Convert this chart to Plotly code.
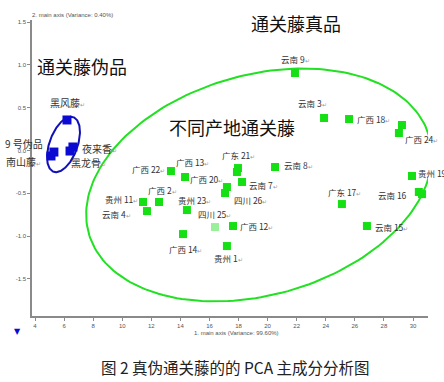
import numpy as np
import plotly.graph_objects as go

# ---------------- data ----------------
genuine_names = ["云南 9", "云南 3", "广西 18", "广西 24", "广西 24", "贵州 19", "云南 16", "云南 16",
                 "广东 17", "云南 15", "云南 8", "广东 21", "广东 21", "云南 7", "广西 20", "四川 26",
                 "广西 13", "广西 22", "广西 2", "贵州 11", "云南 4", "贵州 23", "四川 25", "广西 12",
                 "广西 14", "贵州 1"]
genuine_pc1 = [21.88, 23.88, 25.60, 29.24, 29.03, 29.93, 30.40, 30.62,
               25.11, 26.83, 20.51, 17.96, 17.89, 18.24, 17.20, 17.07,
               14.32, 13.35, 12.53, 11.43, 11.70, 14.45, 16.38, 17.62,
               14.18, 17.20]
genuine_pc2 = [0.906, 0.380, 0.368, 0.298, 0.205, -0.298, -0.485, -0.510,
               -0.626, -0.883, -0.193, -0.205, -0.251, -0.368, -0.427, -0.497,
               -0.310, -0.240, -0.602, -0.602, -0.708, -0.696, -0.895, -0.883,
               -0.977, -1.117]
genuine_faint = ["四川 25"]

fake_names = ["黑风藤", "南山藤", "9 号伪品", "夜来香", "黑龙骨"]
fake_pc1 = [6.20, 5.10, 5.30, 6.61, 6.41]
fake_pc2 = [0.357, -0.064, -0.018, 0.041, -0.006]

# labels that show no paragraph mark in the reference
no_mark = ["9 号伪品", "云南 16", "贵州 19"]

x_ticks = [4, 6, 8, 10, 12, 14, 16, 18, 20, 22, 24, 26, 28, 30]
y_ticks = [-1.5, -1.0, -0.5, 0.0, 0.5, 1.0, 1.5]

x_title = "1. main axis (Variance: 99.60%)"
y_title = "2. main axis (Variance: 0.40%)"
caption = "图 2 真伪通关藤的的 PCA 主成分分析图"
group_fake = "通关藤伪品"
group_true = "通关藤真品"
group_true_sub = "不同产地通关藤"

# ---------------- layout helpers ----------------
W, H = 444, 382
ML, MR, MT, MB = 32, 16, 20, 66
XR = [3.794, 31.03]
YR = [-1.935, 1.526]
PW, PH = W - ML - MR, H - MT - MB
sx = PW / (XR[1] - XR[0])
sy = PH / (YR[1] - YR[0])


def px_to_paper(px, py):
    return (px - ML) / PW, (H - MB - py) / PH


def ellipse(cx_px, cy_px, a, b, theta_deg, n=200):
    t = np.linspace(0, 2 * np.pi, n)
    th = np.deg2rad(theta_deg)
    ox = a * np.cos(t) * np.cos(th) - b * np.sin(t) * np.sin(th)
    oy = -(a * np.cos(t) * np.sin(th) + b * np.sin(t) * np.cos(th))
    px = cx_px + ox
    py = cy_px + oy
    xs = XR[0] + (px - ML) / sx
    ys = YR[1] - (py - MT) / sy
    return xs, ys


FONT = "Noto Sans CJK SC"
GREEN = "#14e014"
BLUE = "#0a0ad2"

fig = go.Figure()

# ellipses
ex, ey = ellipse(259, 185, 177, 110, 16)
fig.add_trace(go.Scatter(x=ex, y=ey, mode="lines", line=dict(color="#22e022", width=2),
                         hoverinfo="skip", showlegend=False))
bx, by = ellipse(63.5, 144.5, 29, 14, 70)
fig.add_trace(go.Scatter(x=bx, y=by, mode="lines", line=dict(color="#1010b8", width=2),
                         hoverinfo="skip", showlegend=False))

# points
colors = ["#9af09a" if n in genuine_faint else GREEN for n in genuine_names]
fig.add_trace(go.Scatter(x=genuine_pc1, y=genuine_pc2, mode="markers",
                         marker=dict(symbol="square", size=8, color=colors, line=dict(width=0)),
                         showlegend=False))
fig.add_trace(go.Scatter(x=fake_pc1, y=fake_pc2, mode="markers",
                         marker=dict(symbol="square", size=9, color=BLUE, line=dict(width=0)),
                         showlegend=False))

# label offsets (anchor, dx px, dy px)
g_off = {
    "云南 9": ("center", 1, 14), "云南 3": ("center", -12, 15), "广西 18": ("left", 6, 0),
    "广西 24": ("left", 4, -6), "贵州 19": ("left", 4, 3), "云南 16": ("right", -10, -3),
    "广东 17": ("center", 3, 12), "云南 15": ("left", 6, -1), "云南 8": ("left", 7, 2),
    "广东 21": ("center", 1, 13), "云南 7": ("left", 5, -3), "广西 20": ("right", -2, 8),
    "四川 26": ("left", 7, -7), "广西 13": ("center", 7, 15), "广西 22": ("right", -4, 2),
    "广西 2": ("center", 3, 12), "贵州 11": ("right", -3, 3), "云南 4": ("right", -14, -3),
    "贵州 23": ("center", 8, 10), "四川 25": ("center", -1, 13), "广西 12": ("left", 5, 0),
    "广西 14": ("center", 2, -15), "贵州 1": ("center", 2, -12),
}
f_off = {
    "黑风藤": ("center", 1, 17), "9 号伪品": ("right", -9, 9), "南山藤": ("right", -8, -6),
    "夜来香": ("left", 7, -1), "黑龙骨": ("left", -1, -11),
}
PM = "<span style='font-size:6px;color:#999'>↵</span>"


def lab(n):
    return n if n in no_mark else n + PM


ann = []
seen = set()
for n in genuine_names:
    if n in seen:
        continue
    seen.add(n)
    if n == "广西 24":
        idx = max(i for i, m in enumerate(genuine_names) if m == n)
    else:
        idx = genuine_names.index(n)
    anc, dx, dy = g_off[n]
    ann.append(dict(x=genuine_pc1[idx], y=genuine_pc2[idx], text=lab(n), showarrow=False,
                    xanchor=anc, yanchor="middle", xshift=dx, yshift=dy,
                    font=dict(family=FONT, size=8.5, color="#333")))
for n, x, y in zip(fake_names, fake_pc1, fake_pc2):
    anc, dx, dy = f_off[n]
    ann.append(dict(x=x, y=y, text=lab(n), showarrow=False,
                    xanchor=anc, yanchor="middle", xshift=dx, yshift=dy,
                    font=dict(family=FONT, size=10, color="#333")))


def paper_text(txt, px, py, size, color="#111", family=FONT, xanchor="center"):
    x, y = px_to_paper(px, py)
    return dict(x=x, y=y, xref="paper", yref="paper", text=txt, showarrow=False,
                xanchor=xanchor, yanchor="middle", font=dict(family=family, size=size, color=color))


ann.append(paper_text(group_fake, 81.5, 66, 18))
ann.append(paper_text(group_true, 296, 23, 18))
ann.append(paper_text(group_true_sub, 232, 127, 18))
ann.append(paper_text(y_title, 30, 15, 6, "#555", "Liberation Sans", "left"))
ann.append(paper_text(x_title, 237, 333, 6, "#555", "Liberation Sans"))
ann.append(paper_text(caption, 235, 367, 15.5, "#222"))
ann.append(paper_text("▼", 17, 332, 8, BLUE, "DejaVu Sans"))

axis_common = dict(showgrid=False, zeroline=False, showline=True, linecolor="#8a8a8a", linewidth=1.5,
                   ticks="outside", ticklen=3, tickcolor="#8a8a8a", tickwidth=1,
                   tickfont=dict(family="Liberation Sans", size=6, color="#555"))

fig.update_layout(
    width=W, height=H, margin=dict(l=ML, r=MR, t=MT, b=MB),
    paper_bgcolor="white", plot_bgcolor="white",
    xaxis=dict(range=XR, tickvals=x_ticks, ticktext=[str(v) for v in x_ticks], **axis_common),
    yaxis=dict(range=YR, tickvals=y_ticks, ticktext=[f"{v:.1f}" for v in y_ticks], **axis_common),
    annotations=ann, showlegend=False, hovermode=False,
)

fig.write_html("out.html", config={"displayModeBar": False},
               post_script="document.body.style.margin='0';document.body.style.overflow='hidden';")
